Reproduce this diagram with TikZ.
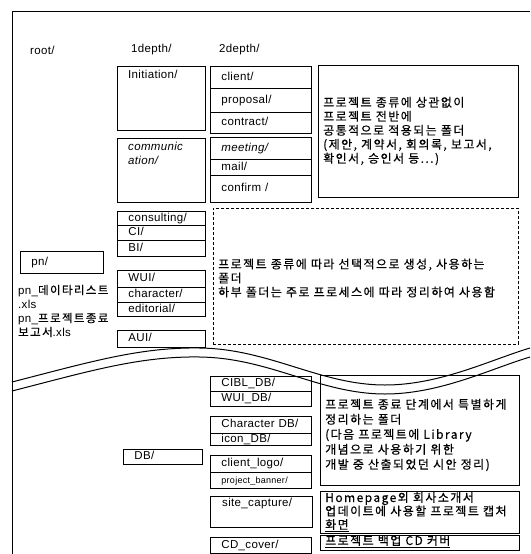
\documentclass[tikz,border=0pt]{standalone}
\usepackage{fontspec}
\setmainfont{Liberation Sans}[LetterSpace=3]
\newfontfamily\kr{Noto Sans CJK KR}[LetterSpace=12,FakeBold=0.4]
\begin{document}
\begin{tikzpicture}[x=1pt,y=-1pt,
  frame/.style={line width=0.9pt},
  wave/.style={line width=1pt},
  cell/.style={draw, line width=0.9pt, anchor=north west, inner xsep=11pt, inner ysep=0pt, align=left, text height=8.5pt, text depth=2.5pt, font=\fontsize{11.5}{14}\selectfont},
  c1/.style={cell, text width=66pt},
  c2/.style={cell, text width=79pt},
  lbl/.style={anchor=north west, inner sep=0pt, align=left, font=\fontsize{11.5}{14}\selectfont},
  hdr/.style={anchor=west, inner sep=0pt, font=\fontsize{11.5}{14}\selectfont},
  note/.style={draw, line width=0.9pt, anchor=north west, inner sep=0pt},
  kt/.style={anchor=west, inner sep=0pt, align=left, font=\kr\fontsize{12}{14}\selectfont}
]
\useasboundingbox (0,0) rectangle (530,554);
% frame
\draw[frame] (530,11) -- (12,11) -- (12,554);
% headers
\node[hdr] (hroot) at (30,50) {root/};
\node[hdr] (hone) at (131,50) {1depth/};
\node[hdr] (htwo) at (219,50) {2depth/};
% 1depth upper
\node[note, minimum width=88pt, minimum height=64pt] (init) at (117,66) {};
\node[lbl] (initt) at (128,70) {Initiation/};
\node[note, minimum width=88pt, minimum height=64pt] (comm) at (117,138) {};
\node[lbl] (commt) at (128,142) {\itshape communic\\\itshape ation/};
\node[c1, minimum height=14pt] (cons) at (117,211) {consulting/};
\node[c1, minimum height=15pt] (ci) at (117,225) {CI/};
\node[c1, minimum height=16pt] (bi) at (117,240) {BI/};
\node[c1, minimum height=17pt] (wui) at (117,270) {WUI/};
\node[c1, minimum height=15pt] (char) at (117,287) {character/};
\node[c1, minimum height=14pt] (edit) at (117,302) {editorial/};
\node[c1, minimum height=17pt] (aui) at (117,330) {AUI/};
% root
\node[cell, text width=61pt, minimum height=22pt] (pn) at (20,251) {pn/};
\node[anchor=west, inner sep=0pt, align=left, font=\fontsize{11.5}{14}\selectfont] (pnfiles) at (18,311)
  {pn\_{\kr 데이타리스트}\\.xls\\pn\_{\kr 프로젝트종료}\\{\kr 보고서}.xls};
% 2depth upper
\node[c2, minimum height=22pt] (client) at (210,66) {client/};
\node[c2, minimum height=24pt] (prop) at (210,88) {proposal/};
\node[c2, minimum height=21pt] (contr) at (210,112) {contract/};
\node[c2, minimum height=22pt] (meet) at (210,137) {\itshape meeting/};
\node[c2, minimum height=16pt] (mail) at (210,159) {mail/};
\node[c2, minimum height=27pt] (conf) at (210,175) {confirm /};
% note boxes upper
\node[note, minimum width=200pt, minimum height=132pt] (n1) at (318,65) {};
\node[kt] (n1t) at (323,131) {프로젝트 종류에 상관없이\\프로젝트 전반에\\공통적으로 적용되는 폴더\\(제안, 계약서, 회의록, 보고서,\\확인서, 승인서 등...)};
\node[note, line width=0.6pt, dash pattern=on 3pt off 2pt, minimum width=305pt, minimum height=136pt] (n2) at (213,208) {};
\node[kt] (n2t) at (218,278) {프로젝트 종류에 따라 선택적으로 생성, 사용하는\\폴더\\하부 폴더는 주로 프로세스에 따라 정리하여 사용함};
% wave break
\draw[wave] (12,382) .. controls (90,362) and (140,347) .. (200,348) .. controls (270,349) and (320,385) .. (385,385) .. controls (440,385) and (490,360) .. (530,348);
\draw[wave] (12,391) .. controls (90,371) and (140,356) .. (200,357) .. controls (270,358) and (320,394) .. (385,394) .. controls (440,394) and (490,369) .. (530,357);
% lower
\node[cell, text width=57pt, minimum height=15pt] (db) at (123,449) {DB/};
\node[c2, minimum height=15pt] (cibl) at (210,376) {CIBL\_DB/};
\node[c2, minimum height=15pt] (wuidb) at (210,391) {WUI\_DB/};
\node[c2, minimum height=17pt] (chardb) at (210,416) {Character DB/};
\node[c2, minimum height=12pt] (icon) at (210,433) {icon\_DB/};
\node[c2, minimum height=17pt] (logo) at (210,455) {client\_logo/};
\node[c2, minimum height=16pt, font=\fontsize{9}{11}\selectfont] (banner) at (210,472) {project\_banner/};
\node[note, minimum width=102pt, minimum height=31pt] (site) at (210,496) {};
\node[lbl] (sitet) at (222,498) {site\_capture/};
\node[c2, minimum height=16pt] (cd) at (210,537) {CD\_cover/};
\node[note, minimum width=199pt, minimum height=110pt] (n3) at (320,375) {};
\node[kt, font=\kr\fontsize{12}{15}\selectfont] (n3t) at (325,435) {프로젝트 종료 단계에서 특별하게\\정리하는 폴더\\(다음 프로젝트에 Library\\개념으로 사용하기 위한\\개발 중 산출되었던 시안 정리)};
\node[note, minimum width=199pt, minimum height=42pt] (n4) at (320,491) {};
\node[kt, font=\kr\fontsize{12}{13.5}\selectfont] (n4t) at (325,512) {Homepage외 회사소개서\\업데이트에 사용할 프로젝트 캡처\\\underline{화면}};
\node[note, minimum width=199pt, minimum height=15pt] (n5) at (320,535) {};
\node[kt] (n5t) at (325,541.5) {\underline{프로젝트 백업 CD 커버}};
\end{tikzpicture}
\end{document}
